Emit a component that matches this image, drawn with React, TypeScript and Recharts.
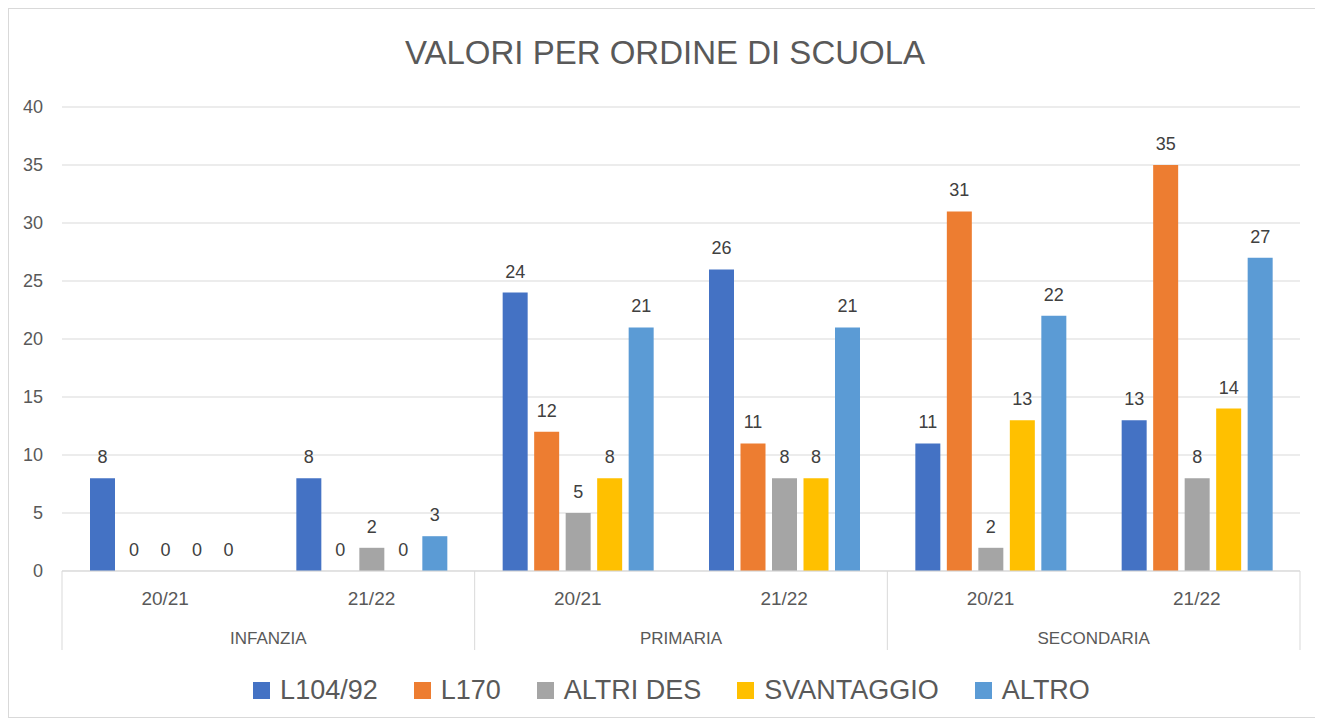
import { BarChart, Bar, XAxis, YAxis, CartesianGrid, Legend, LabelList, Rectangle } from 'recharts';

const groups = ['INFANZIA', 'PRIMARIA', 'SECONDARIA'];
const years = ['20/21', '21/22'];
const yTicks = [0, 5, 10, 15, 20, 25, 30, 35, 40];

const l104 = [8, 8, 24, 26, 11, 13];
const l170 = [0, 0, 12, 11, 31, 35];
const altriDes = [0, 2, 5, 8, 2, 8];
const svantaggio = [0, 0, 8, 8, 13, 14];
const altro = [0, 3, 21, 21, 22, 27];

const series = [
  { key: 'l104', name: 'L104/92', color: '#4472C4', values: l104 },
  { key: 'l170', name: 'L170', color: '#ED7D31', values: l170 },
  { key: 'altriDes', name: 'ALTRI DES', color: '#A5A5A5', values: altriDes },
  { key: 'svantaggio', name: 'SVANTAGGIO', color: '#FFC000', values: svantaggio },
  { key: 'altro', name: 'ALTRO', color: '#5B9BD5', values: altro },
];

const data = groups.flatMap((g, gi) =>
  years.map((y, yi) => {
    const i = gi * years.length + yi;
    const row: any = { id: g + ' ' + y, group: g, year: y };
    series.forEach((s) => { row[s.key] = s.values[i]; });
    return row;
  })
);

const FONT = "'Liberation Sans', Arial, sans-serif";
const LINE = '#d9d9d9';

function CategoryTick(props: any) {
  const { x, y, index } = props;
  const count = props.visibleTicksCount || data.length;
  const band = props.width ? props.width / count : 1238 / 6;
  const row = data[index];
  const first = index % years.length === 0;
  const last = index === data.length - 1;
  return (
    <g>
      <text x={x} y={y + 34} textAnchor="middle" fill="#595959" fontSize={19}>
        {row ? row.year : ''}
      </text>
      {first && (
        <>
          <line x1={x - band / 2} x2={x - band / 2} y1={y} y2={y + 79} stroke={LINE} />
          <text x={x + band / 2} y={y + 73} textAnchor="middle" fill="#595959" fontSize={17}>
            {row.group}
          </text>
        </>
      )}
      {last && <line x1={x + band / 2} x2={x + band / 2} y1={y} y2={y + 79} stroke={LINE} />}
    </g>
  );
}

// draws the value even when it is 0
function ValueLabel(props: any) {
  const { x, y, width, height, value } = props;
  if (value === undefined || value === null) return null;
  const top = Number(height) < 0 ? Number(y) + Number(height) : Number(y);
  const base = value === 0 ? top + Math.abs(Number(height)) : top;
  return (
    <text x={Number(x) + Number(width) / 2} y={base - 15} textAnchor="middle" fill="#404040" fontSize={18}>
      {value}
    </text>
  );
}

function LegendContent() {
  return (
    <div style={{ height: 50, display: 'flex', justifyContent: 'center', alignItems: 'center', gap: 36, paddingLeft: 34, fontFamily: FONT }}>
      {series.map((s) => (
        <div key={s.key} style={{ display: 'flex', alignItems: 'center' }}>
          <span style={{ width: 17, height: 17, background: s.color, display: 'inline-block', marginRight: 10 }} />
          <span style={{ fontSize: 27, color: '#595959' }}>{s.name}</span>
        </div>
      ))}
    </div>
  );
}

export default function App() {
  return (
    <div style={{ position: 'relative', width: 1306, height: 708, border: `1px solid ${LINE}`, background: '#fff', fontFamily: FONT }}>
      <div style={{ position: 'absolute', top: 25, left: 3, width: 1306, textAlign: 'center', fontSize: 33, color: '#595959' }}>
        VALORI PER ORDINE DI SCUOLA
      </div>
      <BarChart
        width={1306}
        height={708}
        data={data}
        margin={{ top: 98, right: 15, bottom: 2, left: 0 }}
        barSize={25}
        barGap={6.5}
        style={{ fontFamily: FONT }}
      >
        <CartesianGrid vertical={false} stroke={LINE} />
        <XAxis
          dataKey="id"
          height={94}
          axisLine={{ stroke: LINE }}
          tickLine={false}
          tickSize={0}
          tickMargin={0}
          interval={0}
          tick={<CategoryTick />}
        />
        <YAxis
          width={53}
          domain={[0, 40]}
          ticks={yTicks}
          axisLine={false}
          tickLine={false}
          tickSize={0}
          tickMargin={19}
          tick={{ fill: '#595959', fontSize: 18 }}
        />
        <Legend verticalAlign="bottom" content={<LegendContent />} />
        {series.map((s) => (
          <Bar
            key={s.key}
            dataKey={s.key}
            name={s.name}
            fill={s.color}
            minPointSize={1}
            isAnimationActive={false}
            shape={(p: any) => (p.payload && p.payload[s.key] === 0 ? <g /> : <Rectangle {...p} />)}
          >
            <LabelList dataKey={s.key} content={<ValueLabel />} />
          </Bar>
        ))}
      </BarChart>
    </div>
  );
}
